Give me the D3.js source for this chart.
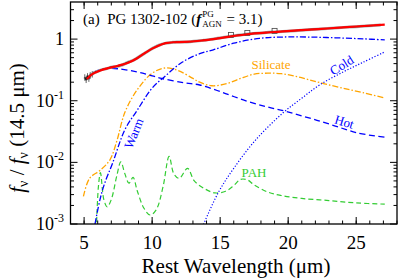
<!DOCTYPE html>
<html>
<head>
<meta charset="utf-8">
<script src="https://cdn.jsdelivr.net/npm/d3@7"></script>
<style>
  body { margin: 0; background: #fff; }
</style>
</head>
<body>
<script>
"use strict";
// wavelengths (micron) and normalised flux
const totalWave = [5.2, 5.6, 6.2, 6.8, 7.5, 8.2, 8.9, 9.5, 10.0, 10.5, 11.0, 11.6, 12.4, 13.5, 14.5, 15.7, 17.0, 18.5, 19.4, 21.0, 23.1, 25.0, 27.1]
const totalFlux = [0.226, 0.27, 0.31, 0.34, 0.37, 0.41, 0.49, 0.60, 0.70, 0.79, 0.86, 0.89, 0.90, 0.94, 1.0, 1.10, 1.20, 1.28, 1.32, 1.40, 1.50, 1.60, 1.72]

const warmWave = [5.8, 6.17, 6.5, 7.1, 8.0, 8.9, 10.0, 10.95, 12.2, 13.5, 14.5, 16.0, 17.9, 19.6, 21.5, 23.5, 25.5, 27.1]
const warmFlux = [0.001, 0.0025, 0.0045, 0.0098, 0.034, 0.07, 0.16, 0.25, 0.42, 0.58, 0.67, 0.86, 1.03, 1.08, 1.08, 1.05, 1.01, 0.97]

const hotWave = [5.2, 5.6, 6.2, 6.8, 7.5, 8.7, 9.7, 10.7, 12.4, 13.5, 15.0, 16.7, 18.4, 19.9, 21.6, 23.3, 25.1, 27.1]
const hotFlux = [0.226, 0.28, 0.32, 0.335, 0.33, 0.30, 0.265, 0.23, 0.195, 0.18, 0.141, 0.103, 0.080, 0.0666, 0.052, 0.040, 0.030, 0.0256]

const coldWave = [13.6, 14.85, 16.0, 17.6, 19.6, 21.0, 22.3, 24.0, 25.5, 27.1]
const coldFlux = [0.0008, 0.0032, 0.008, 0.023, 0.063, 0.11, 0.18, 0.29, 0.42, 0.62]

const silWave = [4.95, 5.4, 6.2, 6.9, 7.4, 8.0, 8.9, 10.0, 10.95, 11.9, 13.0, 13.5, 14.4, 15.5, 16.5, 17.5, 18.5, 19.5, 20.5, 21.5, 22.6, 24.0, 25.5, 27.1]
const silFlux = [0.0028, 0.0055, 0.0075, 0.011, 0.022, 0.065, 0.15, 0.28, 0.34, 0.31, 0.23, 0.20, 0.175, 0.19, 0.23, 0.27, 0.28, 0.275, 0.25, 0.22, 0.19, 0.16, 0.135, 0.111]

const pahWave = [5.9, 6.05, 6.2, 6.45, 6.7, 7.0, 7.4, 7.7, 8.0, 8.3, 8.6, 8.9, 9.4, 9.85, 10.3, 10.8, 11.25, 11.6, 12.0, 12.6, 13.1, 13.8, 14.6, 15.4, 16.0, 16.5, 17.0, 17.5, 18.5, 19.5, 21.0, 23.0, 25.0, 27.1]
const pahFlux = [0.0008, 0.004, 0.0068, 0.0025, 0.0019, 0.0025, 0.006, 0.0102, 0.0065, 0.0046, 0.0057, 0.0035, 0.0018, 0.0014, 0.0017, 0.004, 0.0125, 0.0065, 0.0055, 0.008, 0.005, 0.0038, 0.0032, 0.0034, 0.0042, 0.0053, 0.0052, 0.0043, 0.0033, 0.0029, 0.0026, 0.0024, 0.0022, 0.0021]

// observed spectrum
const obsWave = [5.05, 5.15, 5.25, 5.35, 5.45, 5.6, 5.8, 6.0, 6.3, 6.6, 7.0, 7.4, 7.8, 8.2, 8.6, 9.0, 9.4, 9.8, 10.2, 10.6, 11.0, 11.4, 11.8, 12.3, 12.8, 13.3, 13.8, 14.3, 14.8, 15.3, 15.9, 16.5, 17.2, 18.0, 18.8, 19.6, 20.5, 21.4, 22.3, 23.2, 24.1, 25.0, 25.9, 26.8]
const obsFlux = [0.24, 0.22, 0.25, 0.23, 0.26, 0.27, 0.29, 0.30, 0.32, 0.33, 0.35, 0.36, 0.38, 0.42, 0.45, 0.51, 0.58, 0.66, 0.74, 0.81, 0.86, 0.88, 0.90, 0.90, 0.91, 0.93, 0.96, 0.99, 1.03, 1.07, 1.12, 1.17, 1.22, 1.26, 1.30, 1.33, 1.37, 1.42, 1.46, 1.50, 1.55, 1.59, 1.64, 1.70]
const photWave = [15.8, 17.0, 19.0]
const photFlux = [1.17, 1.26, 1.36]

const xMajor = [5, 10, 15, 20, 25]
const xMinor = d3.range(4, 29, 1)
const yMajor = [1e-3, 1e-2, 1e-1, 1]
const yMajorLabels = [["10", "-3"], ["10", "-2"], ["10", "-1"], ["1", ""]]
const yMinor = [0.002, 0.003, 0.004, 0.005, 0.006, 0.007, 0.008, 0.009,
                0.02, 0.03, 0.04, 0.05, 0.06, 0.07, 0.08, 0.09,
                0.2, 0.3, 0.4, 0.5, 0.6, 0.7, 0.8, 0.9, 2, 3]

const measurements = { width: 399, height: 279, left: 70.5, right: 397, top: 2, bottom: 224 }
const serif = "Liberation Serif"

const svg = d3.select("body").append("svg")
    .attr("width", measurements.width)
    .attr("height", measurements.height)

const x = d3.scaleLinear().domain([4, 28]).range([measurements.left, measurements.right])
const y = d3.scaleLog().domain([1e-3, 4]).range([measurements.bottom, measurements.top])

svg.append("clipPath").attr("id", "plotclip").append("rect")
    .attr("x", measurements.left).attr("y", measurements.top)
    .attr("width", measurements.right - measurements.left)
    .attr("height", measurements.bottom - measurements.top)

const plot = svg.append("g").attr("clip-path", "url(#plotclip)")

function pairs(w, f) { return w.map((d, i) => [d, f[i]]) }
const line = d3.line().x(d => x(d[0])).y(d => y(d[1])).curve(d3.curveCatmullRom)

function drawCurve(w, f, color, width, dash) {
    plot.append("path")
        .datum(pairs(w, f))
        .attr("d", line)
        .attr("fill", "none")
        .attr("stroke", color)
        .attr("stroke-width", width)
        .attr("stroke-dasharray", dash)
}

// components
drawCurve(pahWave, pahFlux, "#33cc33", 1.2, "5,3")
drawCurve(silWave, silFlux, "#ffa500", 1.3, "6,2,1.5,2")
drawCurve(coldWave, coldFlux, "#0000ff", 1.2, "1.2,1.8")
drawCurve(hotWave, hotFlux, "#0000ff", 1.3, "6,3.5")
drawCurve(warmWave, warmFlux, "#0000ff", 1.3, "6,2,1.5,2")

// observed spectrum with error
const obs = pairs(obsWave, obsFlux)
plot.append("path").datum(obs).attr("d", line)
    .attr("fill", "none").attr("stroke", "#aaa").attr("stroke-width", 3)
plot.selectAll(".err").data(obs.filter(d => d[0] < 5.7)).enter().append("line")
    .attr("x1", d => x(d[0])).attr("x2", d => x(d[0]))
    .attr("y1", d => y(d[1] * 0.88)).attr("y2", d => y(d[1] * 1.12))
    .attr("stroke", "#666").attr("stroke-width", 1)
plot.append("path").datum(obs).attr("d", line)
    .attr("fill", "none").attr("stroke", "#111").attr("stroke-width", 1.2)
plot.selectAll(".phot").data(pairs(photWave, photFlux)).enter().append("rect")
    .attr("x", d => x(d[0]) - 2.5).attr("y", d => y(d[1]) - 2.5)
    .attr("width", 5).attr("height", 5)
    .attr("fill", "none").attr("stroke", "#444").attr("stroke-width", 0.8)

// total model
drawCurve(totalWave, totalFlux, "#ff0000", 2.2, null)

// frame and ticks
const axisG = svg.append("g").attr("stroke", "#000").attr("stroke-width", 1)
function ticksX(vals, len) {
    vals.forEach(v => {
        axisG.append("line").attr("x1", x(v)).attr("x2", x(v))
            .attr("y1", measurements.bottom).attr("y2", measurements.bottom - len)
        axisG.append("line").attr("x1", x(v)).attr("x2", x(v))
            .attr("y1", measurements.top).attr("y2", measurements.top + len)
    })
}
function ticksY(vals, len) {
    vals.forEach(v => {
        axisG.append("line").attr("y1", y(v)).attr("y2", y(v))
            .attr("x1", measurements.left).attr("x2", measurements.left + len)
        axisG.append("line").attr("y1", y(v)).attr("y2", y(v))
            .attr("x1", measurements.right).attr("x2", measurements.right - len)
    })
}
ticksX(xMinor, 3.5)
ticksX(xMajor, 7)
ticksY(yMinor, 3.5)
ticksY(yMajor, 7)
svg.append("rect")
    .attr("x", measurements.left).attr("y", measurements.top)
    .attr("width", measurements.right - measurements.left)
    .attr("height", measurements.bottom - measurements.top)
    .attr("fill", "none").attr("stroke", "#000").attr("stroke-width", 1.3)

// every text goes through here so the serif face sticks
function addText(sel) {
    return sel.append("text").attr("font-family", serif)
}

// tick labels
xMajor.forEach(v => {
    addText(svg).attr("x", x(v)).attr("y", 249)
        .attr("text-anchor", "middle").attr("font-size", 19)
        .text(v)
})

yMajor.forEach((v, i) => {
    const t = addText(svg)
        .attr("x", 64).attr("y", y(v) + 6)
        .attr("text-anchor", "end").attr("font-size", 18)
    t.append("tspan").text(yMajorLabels[i][0])
    if (yMajorLabels[i][1]) {
        t.append("tspan").attr("dy", -8).attr("font-size", 12).text(yMajorLabels[i][1])
    }
})

// axis titles
addText(svg)
    .attr("x", 236).attr("y", 273)
    .attr("text-anchor", "middle").attr("font-size", 21)
    .text("Rest Wavelength (\u03bcm)")

const yt = addText(svg)
    .attr("transform", "translate(24,128) rotate(-90)")
    .attr("text-anchor", "middle").attr("font-size", 21)
yt.append("tspan").attr("font-style", "italic").text("f")
yt.append("tspan").attr("font-size", 14).attr("dy", 4).text("\u03bd")
yt.append("tspan").attr("dy", -4).text(" / ")
yt.append("tspan").attr("font-style", "italic").text("f")
yt.append("tspan").attr("font-size", 14).attr("dy", 4).text("\u03bd")
yt.append("tspan").attr("dy", -4).text(" (14.5 \u03bcm)")

// title
const title1 = addText(svg)
    .attr("x", 83).attr("y", 24).attr("font-size", 15)
    .attr("xml:space", "preserve")
    .text("(a)  PG 1302-102 (")
let tx = 83 + title1.node().getComputedTextLength()
const fTxt = addText(svg)
    .attr("x", tx).attr("y", 24).attr("font-size", 15)
    .attr("font-style", "italic").attr("font-weight", "bold")
    .text("f")
tx += fTxt.node().getComputedTextLength() + 1
const sup = addText(svg).attr("x", tx).attr("y", 17).attr("font-size", 9).text("PG")
const sub = addText(svg).attr("x", tx).attr("y", 27).attr("font-size", 9).text("AGN")
tx += Math.max(sup.node().getComputedTextLength(), sub.node().getComputedTextLength()) + 1
addText(svg).attr("x", tx).attr("y", 24).attr("font-size", 15)
    .attr("xml:space", "preserve").text(" = 3.1)")

// component labels
function label(txt, px, py, rot, color) {
    addText(svg)
        .attr("transform", `translate(${px},${py}) rotate(${rot})`)
        .attr("text-anchor", "middle").attr("font-size", 13)
        .attr("fill", color).text(txt)
}
label("Silicate", 271, 69, 0, "#ffa500")
label("Cold", 344, 69, -32, "#0000ff")
label("Hot", 343, 126, 17, "#0000ff")
label("Warm", 138, 135, -68, "#0000ff")
label("PAH", 254, 177, 0, "#33cc33")
</script>
</body>
</html>
